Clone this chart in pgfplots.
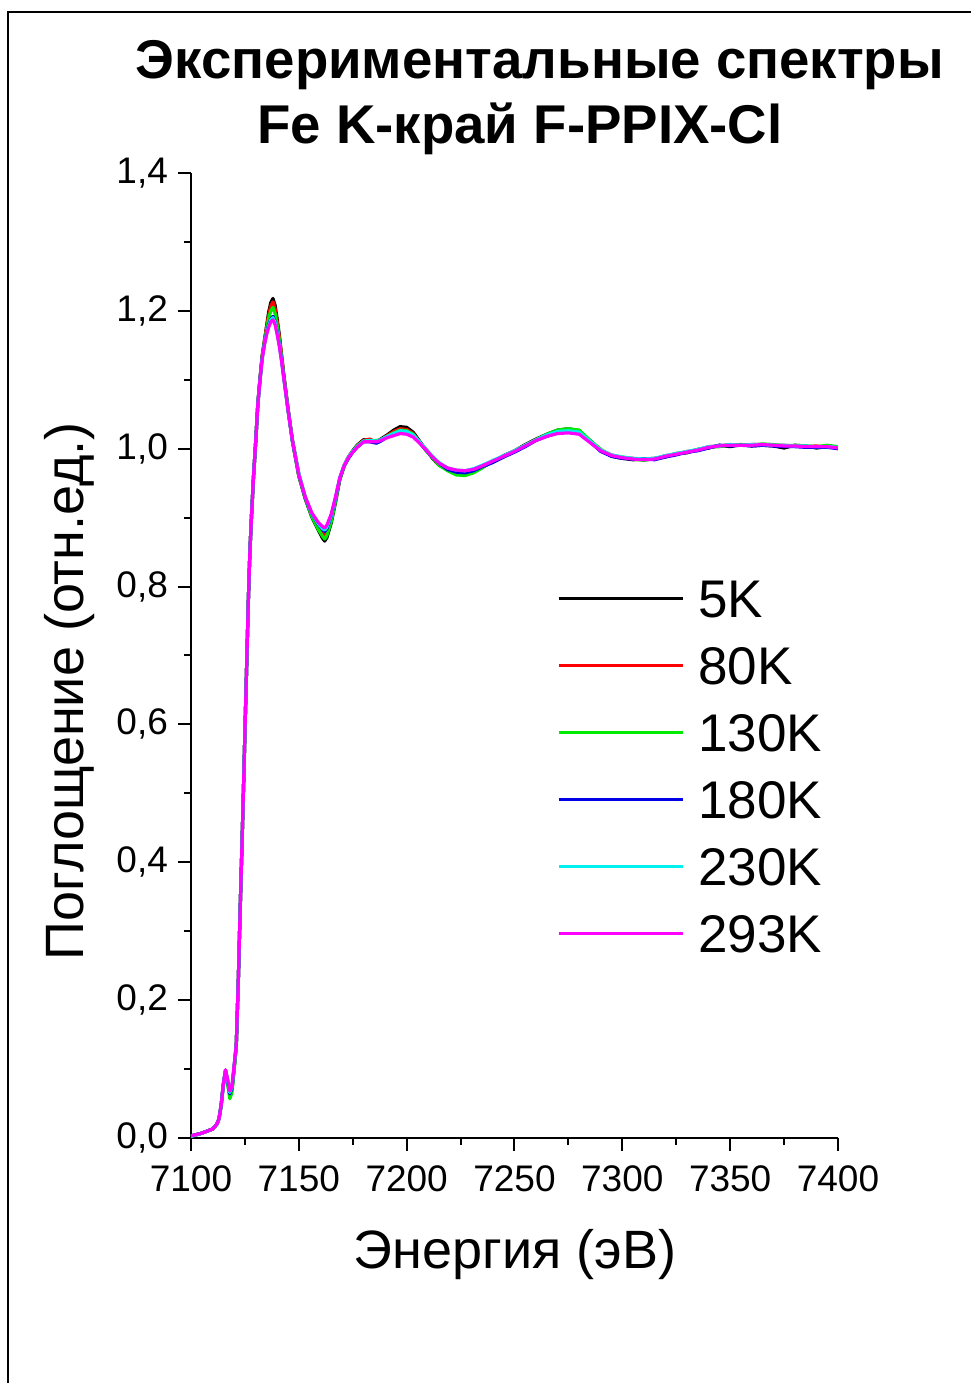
\documentclass[border=0pt]{standalone}
\usepackage{fontspec}
\setmainfont{Liberation Sans}
\usepackage{pgfplots}
\usepackage{pgfplotstable}
\pgfplotsset{compat=1.18}
\definecolor{cgreen}{RGB}{0,235,0}
\definecolor{cblue}{RGB}{0,0,230}
\definecolor{ccyan}{RGB}{0,240,240}
\definecolor{cmag}{RGB}{255,0,255}
\pgfplotstableread{
E s5 s80 s130 s180 s230 s293
7100 0.002 0.003 0.003 0.003 0.002 0.003
7105 0.007 0.007 0.007 0.007 0.007 0.007
7110 0.013 0.013 0.013 0.013 0.013 0.013
7112 0.020 0.020 0.020 0.020 0.020 0.020
7113 0.028 0.028 0.028 0.028 0.028 0.028
7114 0.048 0.048 0.048 0.048 0.048 0.048
7115 0.078 0.078 0.077 0.078 0.078 0.078
7116 0.097 0.098 0.096 0.098 0.099 0.099
7117 0.080 0.083 0.078 0.083 0.084 0.085
7118 0.062 0.065 0.057 0.064 0.066 0.068
7119 0.070 0.072 0.066 0.072 0.074 0.075
7120 0.100 0.103 0.097 0.104 0.104 0.105
7121 0.135 0.135 0.133 0.135 0.135 0.135
7122 0.235 0.235 0.235 0.235 0.235 0.235
7122.7 0.320 0.320 0.320 0.320 0.320 0.320
7123.5 0.410 0.410 0.410 0.410 0.410 0.410
7124.2 0.490 0.490 0.490 0.490 0.490 0.490
7125 0.588 0.588 0.588 0.588 0.588 0.588
7125.8 0.684 0.684 0.684 0.684 0.684 0.684
7126.6 0.781 0.781 0.781 0.781 0.781 0.781
7127.3 0.850 0.850 0.850 0.850 0.850 0.850
7128.1 0.905 0.905 0.905 0.905 0.905 0.905
7129 0.960 0.960 0.960 0.960 0.960 0.960
7130 1.010 1.010 1.010 1.010 1.010 1.010
7131 1.066 1.065 1.066 1.065 1.065 1.065
7132 1.102 1.101 1.101 1.100 1.100 1.100
7133 1.135 1.134 1.133 1.131 1.130 1.130
7134 1.156 1.155 1.154 1.151 1.151 1.150
7135 1.177 1.175 1.172 1.167 1.166 1.165
7136 1.198 1.194 1.189 1.180 1.178 1.176
7137 1.212 1.207 1.200 1.188 1.187 1.184
7138 1.218 1.213 1.205 1.192 1.190 1.187
7139 1.208 1.203 1.196 1.184 1.183 1.180
7140 1.187 1.183 1.178 1.169 1.167 1.165
7141 1.164 1.161 1.157 1.150 1.150 1.148
7142 1.136 1.135 1.132 1.129 1.128 1.127
7143 1.108 1.107 1.106 1.104 1.103 1.103
7145 1.058 1.057 1.057 1.056 1.056 1.056
7147 1.012 1.013 1.011 1.012 1.012 1.012
7150 0.960 0.962 0.960 0.963 0.964 0.962
7153 0.927 0.928 0.928 0.929 0.930 0.930
7156 0.901 0.904 0.902 0.906 0.906 0.907
7159 0.882 0.886 0.883 0.890 0.891 0.893
7161 0.870 0.877 0.873 0.883 0.884 0.887
7162 0.866 0.874 0.869 0.880 0.882 0.885
7163 0.871 0.879 0.874 0.884 0.886 0.889
7165 0.892 0.897 0.894 0.902 0.903 0.905
7167 0.922 0.926 0.924 0.928 0.929 0.930
7169 0.955 0.956 0.956 0.957 0.958 0.958
7171 0.975 0.976 0.974 0.975 0.976 0.975
7173 0.988 0.988 0.987 0.986 0.988 0.987
7175 0.997 0.996 0.996 0.995 0.996 0.995
7177 1.005 1.004 1.004 1.002 1.003 1.002
7180 1.013 1.012 1.011 1.010 1.011 1.010
7183 1.012 1.014 1.011 1.010 1.012 1.010
7186 1.010 1.009 1.012 1.008 1.011 1.010
7188 1.014 1.012 1.013 1.011 1.013 1.012
7191 1.020 1.019 1.018 1.017 1.018 1.016
7194 1.027 1.025 1.023 1.021 1.022 1.019
7197 1.032 1.029 1.027 1.025 1.026 1.022
7200 1.031 1.028 1.026 1.024 1.025 1.021
7203 1.024 1.022 1.021 1.019 1.020 1.017
7206 1.011 1.010 1.009 1.009 1.010 1.008
7209 0.998 0.999 0.997 0.998 0.999 0.998
7212 0.986 0.988 0.987 0.988 0.989 0.988
7215 0.976 0.978 0.976 0.979 0.980 0.979
7219 0.970 0.971 0.968 0.970 0.972 0.972
7223 0.965 0.967 0.962 0.966 0.969 0.969
7227 0.964 0.966 0.961 0.965 0.968 0.968
7231 0.966 0.969 0.965 0.968 0.971 0.970
7235 0.973 0.974 0.972 0.974 0.976 0.975
7240 0.981 0.982 0.983 0.980 0.983 0.982
7245 0.990 0.989 0.988 0.988 0.990 0.989
7250 0.997 0.996 0.997 0.995 0.997 0.996
7255 1.006 1.005 1.005 1.003 1.005 1.004
7260 1.014 1.013 1.013 1.012 1.013 1.012
7265 1.021 1.020 1.021 1.018 1.020 1.018
7270 1.027 1.026 1.027 1.023 1.025 1.022
7275 1.029 1.027 1.029 1.024 1.026 1.023
7280 1.026 1.025 1.027 1.022 1.024 1.021
7285 1.012 1.011 1.012 1.010 1.011 1.009
7290 0.998 0.998 0.999 0.996 0.998 0.997
7295 0.989 0.991 0.990 0.989 0.991 0.990
7300 0.986 0.987 0.988 0.986 0.988 0.987
7305 0.984 0.986 0.985 0.985 0.986 0.985
7310 0.985 0.984 0.983 0.985 0.985 0.984
7315 0.986 0.985 0.986 0.984 0.986 0.985
7320 0.988 0.990 0.989 0.988 0.990 0.989
7325 0.993 0.992 0.993 0.991 0.993 0.992
7330 0.994 0.996 0.995 0.995 0.996 0.995
7335 0.999 0.998 0.999 0.997 0.999 0.998
7340 1.001 1.003 1.002 1.001 1.003 1.002
7345 1.005 1.004 1.003 1.005 1.004 1.004
7350 1.003 1.006 1.005 1.004 1.006 1.005
7355 1.006 1.005 1.006 1.005 1.005 1.005
7360 1.004 1.006 1.005 1.004 1.006 1.005
7365 1.005 1.006 1.007 1.005 1.006 1.006
7370 1.004 1.005 1.006 1.004 1.005 1.005
7375 1.001 1.005 1.004 1.003 1.005 1.004
7380 1.005 1.004 1.005 1.003 1.004 1.004
7385 1.004 1.003 1.004 1.002 1.004 1.003
7390 1.001 1.004 1.003 1.002 1.003 1.003
7395 1.003 1.002 1.005 1.002 1.003 1.003
7400 1.002 1.002 1.003 1.000 1.002 1.001
}\spectra
\begin{document}
\begin{tikzpicture}
\path[use as bounding box] (0,0) rectangle (485.5pt,691.5pt);
\draw[line width=1pt] (4pt,0pt) -- (4pt,685.5pt) -- (485.5pt,685.5pt);
\begin{axis}[
  at={(95.5pt,122.5pt)}, anchor=south west,
  scale only axis, width=323.5pt, height=482.5pt,
  xmin=7100, xmax=7400, ymin=0, ymax=1.4,
  axis lines*=left,
  axis line style={line width=1pt},
  tick style={line width=1pt, black},
  tick align=outside,
  major tick length=6.5pt, minor tick length=3.5pt,
  xtick={7100,7150,...,7400},
  ytick={0,0.2,...,1.4},
  minor x tick num=1, minor y tick num=1,
  /pgf/number format/assume math mode=true,
  ticklabel style={font=\fontsize{18.5pt}{18.5pt}\selectfont},
  x tick label style={yshift=-4pt, /pgf/number format/.cd, 1000 sep={}},
  y tick label style={xshift=-1.5pt, /pgf/number format/.cd, fixed, fixed zerofill, precision=1, use comma},
  xlabel={Энергия (эВ)},
  ylabel={Поглощение (отн.ед.)},
  label style={font=\fontsize{27pt}{27pt}\selectfont},
  xlabel style={at={(axis description cs:0.501,-0.121)}, anchor=center},
  ylabel style={at={(axis description cs:-0.187,0.463)}, anchor=center},
  title={Экспериментальные спектры\\Fe K-край F-PPIX-Cl\hspace*{20pt}},
  title style={at={(axis description cs:0.5394,1.0659)}, anchor=center, align=center,
    font=\bfseries\fontsize{27.3pt}{32.5pt}\selectfont},
  legend style={at={(axis description cs:0.566,0.579)}, anchor=north west,
    draw=none, fill=none, inner sep=0pt, outer sep=0pt,
    row sep=14.5pt, column sep=7pt,
    font=\fontsize{26.5pt}{26.5pt}\selectfont,
    nodes={inner sep=0pt, text height=19pt, text depth=0pt}},
  legend cell align=left,
  legend image code/.code={\draw[#1, line width=1.5pt] (0pt,0pt) -- (62pt,0pt);},
  every axis plot/.append style={line width=1.6pt, line join=round},
]
\addplot[black] table[x=E, y=s5] {\spectra};
\addplot[red] table[x=E, y=s80] {\spectra};
\addplot[cgreen] table[x=E, y=s130] {\spectra};
\addplot[cblue] table[x=E, y=s180] {\spectra};
\addplot[ccyan] table[x=E, y=s230] {\spectra};
\addplot[cmag] table[x=E, y=s293] {\spectra};
\legend{5K,80K,130K,180K,230K,293K}
\end{axis}
\end{tikzpicture}
\end{document}
